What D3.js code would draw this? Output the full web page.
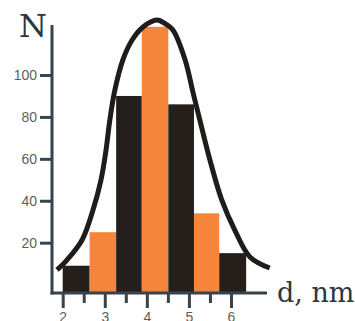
<!DOCTYPE html>
<html>
<head>
<meta charset="utf-8">
<script src="https://cdn.jsdelivr.net/npm/d3@7"></script>
<style>
  html, body { margin: 0; padding: 0; background: #fff; }
  svg { display: block; }
</style>
</head>
<body>
<svg id="chart" width="355" height="321"></svg>
<script>
// Particle size histogram: bin edges (nm) and counts per bin
const binEdges = [2.0, 2.64, 3.27, 3.88, 4.51, 5.12, 5.72, 6.36];
const counts   = [9, 25, 90, 123, 86, 34, 15];

// Fitted distribution curve, sampled as (d, N) pairs
const curveD = [1.865, 2.10, 2.46, 2.72, 2.91, 3.03, 3.12, 3.24, 3.43, 3.65, 3.91, 4.24, 4.45, 4.62, 4.91, 5.10, 5.26, 5.50, 5.78, 6.09, 6.45, 6.92];
const curveN = [7.0, 11.7, 21.3, 35.6, 49.9, 64.2, 78.5, 92.8, 107.2, 116.7, 122.9, 126.2, 124.3, 121.5, 107.2, 91.4, 78.5, 59.4, 40.4, 26.0, 13.2, 7.9];

// Axis ticks
const yTicks = [20, 40, 60, 80, 100];
const xMajor = [2, 3, 4, 5, 6];
const xMinor = [2.5, 3.5, 4.5, 5.5];

const svg = d3.select("#chart");

const axisColor = "#39434b";
const barDark = "#241f1b";
const barOrange = "#f4853a";
const labelGrey = "#5e5e5e";

const x = d3.scaleLinear().domain([2, 6]).range([62.7, 231]);
const y = d3.scaleLinear().domain([0, 100]).range([284.6, 75]);

const axisX = 52;      // vertical axis position
const axisY = 293;     // horizontal axis position
const axisTop = 25;
const axisRight = 267;

// Bars
svg.append("g")
  .selectAll("rect")
  .data(counts)
  .join("rect")
  .attr("x", (d, i) => x(binEdges[i]))
  .attr("width", (d, i) => x(binEdges[i + 1]) - x(binEdges[i]))
  .attr("y", d => y(d))
  .attr("height", d => axisY - y(d))
  .attr("fill", (d, i) => i % 2 === 0 ? barDark : barOrange);

// Distribution curve
const pts = curveD.map((d, i) => [d, curveN[i]]);
svg.append("path")
  .datum(pts)
  .attr("fill", "none")
  .attr("stroke", "#1f1c19")
  .attr("stroke-width", 5)
  .attr("d", d3.line().x(p => x(p[0])).y(p => y(p[1])).curve(d3.curveCatmullRom.alpha(0.5)));

// Y axis
const gy = svg.append("g")
  .attr("transform", `translate(${axisX},0)`)
  .call(d3.axisLeft(y).tickValues(yTicks).tickSize(12).tickPadding(3).tickFormat(d3.format("d")));
gy.select(".domain").remove();
gy.selectAll(".tick line").attr("stroke", axisColor).attr("stroke-width", 3);
gy.selectAll(".tick text")
  .attr("fill", labelGrey)
  .style("font-family", "'Liberation Sans', Arial, sans-serif")
  .style("font-size", "14px");

// X axis: major and minor ticks
const gx = svg.append("g")
  .attr("transform", `translate(0,${axisY})`)
  .call(d3.axisBottom(x).tickValues(xMajor).tickSize(15).tickPadding(4).tickFormat(d3.format("d")));
gx.select(".domain").remove();
gx.selectAll(".tick line").attr("stroke", axisColor).attr("stroke-width", 3);
gx.selectAll(".tick text")
  .attr("fill", labelGrey)
  .style("font-family", "'Liberation Sans', Arial, sans-serif")
  .style("font-size", "14px");

const gxm = svg.append("g")
  .attr("transform", `translate(0,${axisY})`)
  .call(d3.axisBottom(x).tickValues(xMinor).tickSize(10).tickFormat(""));
gxm.select(".domain").remove();
gxm.selectAll(".tick line").attr("stroke", axisColor).attr("stroke-width", 3);

// Axis lines
svg.append("line")
  .attr("x1", axisX).attr("x2", axisX)
  .attr("y1", axisTop).attr("y2", axisY + 1.5)
  .attr("stroke", axisColor).attr("stroke-width", 3);
svg.append("line")
  .attr("x1", axisX - 1.5).attr("x2", axisRight)
  .attr("y1", axisY).attr("y2", axisY)
  .attr("stroke", axisColor).attr("stroke-width", 3);

// Axis titles
svg.append("text")
  .attr("x", 19).attr("y", 37)
  .attr("fill", "#2b3740")
  .style("font-family", "'DejaVu Serif', serif")
  .style("font-size", "32px")
  .text("N");

svg.append("text")
  .attr("x", 277).attr("y", 302)
  .attr("fill", "#2b3740")
  .style("font-family", "'DejaVu Serif', serif")
  .style("font-size", "27px")
  .text("d, nm");
</script>
</body>
</html>
